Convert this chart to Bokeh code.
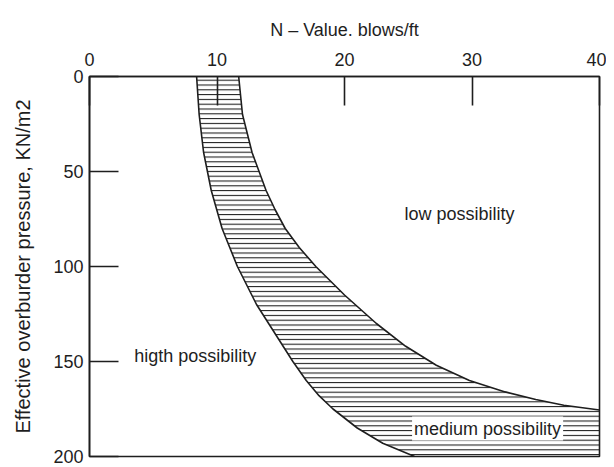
from bokeh.plotting import figure
from bokeh.models import Range1d, FixedTicker, Label
from bokeh.embed import file_html
from bokeh.resources import INLINE

# N-value ticks and pressure ticks
x_ticks = [0, 10, 20, 30, 40]
y_ticks = [0, 50, 100, 150, 200]

# Left boundary of the band (effective pressure kN/m2 -> N value)
left_depth = [0, 20, 40, 60, 80, 100, 120, 140, 150, 160, 168, 175, 185, 193, 200]
left_n = [8.4, 8.6, 8.95, 9.55, 10.4, 11.6, 13.1, 15.0, 15.95, 17.0, 18.0, 19.1, 21.0, 23.0, 25.5]

# Right boundary of the band
right_depth = [0, 20, 40, 60, 70, 80, 90, 100, 115, 130, 142, 152, 160, 166, 170, 173, 175.5]
right_n = [11.7, 12.0, 12.75, 13.85, 14.55, 15.35, 16.45, 17.75, 20.0, 22.5, 24.8, 27.2, 29.8, 32.6, 35.0, 37.2, 40.0]

zone_labels = ["low possibility", "higth possibility", "medium possibility"]

FONT = "Liberation Sans"
INK = "#1e1e1e"

p = figure(width=606, height=467, output_backend="svg", toolbar_location=None,
           x_range=Range1d(0, 40), y_range=Range1d(200, 0),
           x_axis_location="above",
           min_border_left=89, min_border_right=7, min_border_top=76, min_border_bottom=11)

# hatched band polygon built from the boundary curves
poly_x = list(left_n) + [40, 40] + list(reversed(right_n))
poly_y = list(left_depth) + [200, right_depth[-1]] + list(reversed(right_depth))
p.patch(poly_x, poly_y, fill_color=None, line_color=None,
        hatch_pattern="horizontal_line", hatch_color=INK,
        hatch_scale=4.8, hatch_weight=1.1)

p.line(left_n, left_depth, line_color=INK, line_width=1.6)
p.line(right_n, right_depth, line_color=INK, line_width=1.6)

# zone labels
p.add_layout(Label(x=24.7, y=72.4, text=zone_labels[0], text_font=FONT,
                   text_font_size="18px", text_align="left", text_baseline="middle",
                   text_color=INK))
p.add_layout(Label(x=3.5, y=147, text=zone_labels[1], text_font=FONT,
                   text_font_size="18px", text_align="left", text_baseline="middle",
                   text_color=INK))
p.add_layout(Label(x=25.3, y=185.3, text=zone_labels[2], text_font=FONT,
                   text_font_size="18px", text_align="left", text_baseline="middle",
                   text_color=INK, background_fill_color="white",
                   background_fill_alpha=1.0, padding=2))

p.xgrid.visible = False
p.ygrid.visible = False

p.xaxis.ticker = FixedTicker(ticks=x_ticks)
p.yaxis.ticker = FixedTicker(ticks=y_ticks)
p.xaxis.axis_label = "N \u2013 Value. blows/ft"
p.yaxis.axis_label = "Effective overburder pressure, KN/m2"

for ax in (p.xaxis, p.yaxis):
    ax.major_tick_in = 29
    ax.major_tick_out = 0
    ax.minor_tick_in = 0
    ax.minor_tick_out = 0
    ax.major_tick_line_color = INK
    ax.major_tick_line_width = 1.6
    ax.axis_line_color = INK
    ax.axis_line_width = 1.6
    ax.major_label_text_font = FONT
    ax.major_label_text_font_size = "18px"
    ax.major_label_text_color = INK
    ax.axis_label_text_font = FONT
    ax.axis_label_text_font_style = "normal"
    ax.axis_label_text_color = INK

p.xaxis.axis_label_text_font_size = "18px"
p.yaxis.axis_label_text_font_size = "20px"
p.xaxis.major_label_standoff = 11
p.xaxis.axis_label_standoff = 10
p.yaxis.major_label_standoff = 6
p.yaxis.axis_label_standoff = 16

p.outline_line_color = INK
p.outline_line_width = 1.6
p.background_fill_color = "white"
p.border_fill_color = "white"

open("out.html", "w").write(file_html(p, INLINE))
